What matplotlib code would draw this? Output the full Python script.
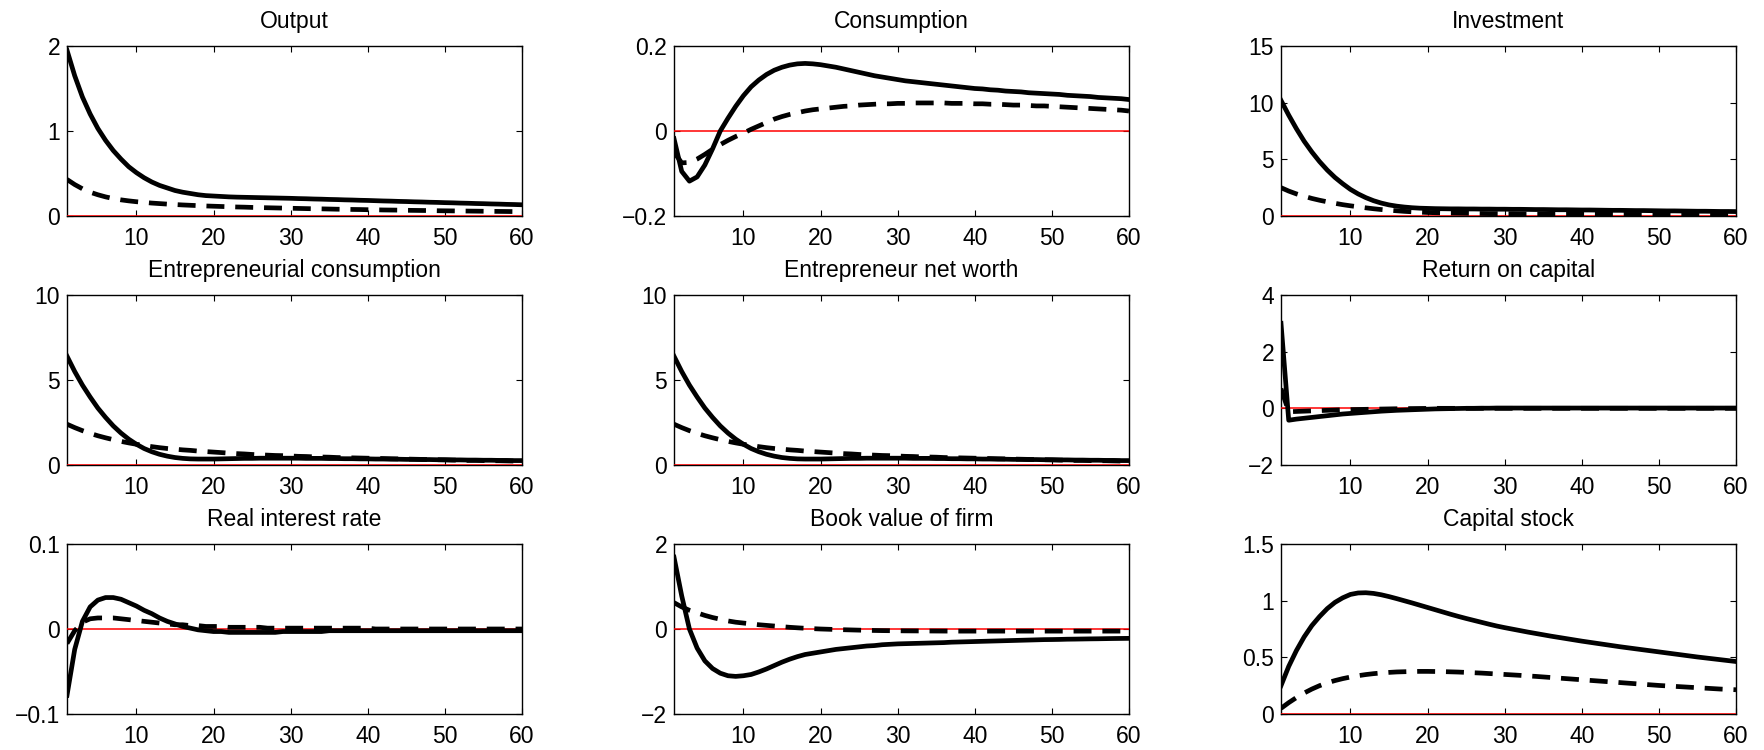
import matplotlib
matplotlib.use("Agg")
import matplotlib.pyplot as plt
import numpy as np

plt.rcParams['font.family'] = ['Liberation Sans', 'DejaVu Sans']

periods = list(range(1, 61))

titles = ["Output", "Consumption", "Investment",
          "Entrepreneurial consumption", "Entrepreneur net worth", "Return on capital",
          "Real interest rate", "Book value of firm", "Capital stock"]

ylims = [(0, 2), (-0.2, 0.2), (0, 15),
         (0, 10), (0, 10), (-2, 4),
         (-0.1, 0.1), (-2, 2), (0, 1.5)]

yticks = [[0, 1, 2], [-0.2, 0, 0.2], [0, 5, 10, 15],
          [0, 5, 10], [0, 5, 10], [-2, 0, 2, 4],
          [-0.1, 0, 0.1], [-2, 0, 2], [0, 0.5, 1, 1.5]]

ytick_labels = [["0", "1", "2"], ["\u22120.2", "0", "0.2"], ["0", "5", "10", "15"],
                ["0", "5", "10"], ["0", "5", "10"], ["\u22122", "0", "2", "4"],
                ["\u22120.1", "0", "0.1"], ["\u22122", "0", "2"], ["0", "0.5", "1", "1.5"]]

xticks = [10, 20, 30, 40, 50, 60]

output_solid = [1.95, 1.65, 1.40, 1.20, 1.03, 0.89, 0.77, 0.67, 0.58, 0.51,
                0.45, 0.40, 0.36, 0.33, 0.30, 0.28, 0.265, 0.25, 0.24, 0.235,
                0.23, 0.225, 0.222, 0.22, 0.218, 0.216, 0.214, 0.212, 0.21, 0.208,
                0.205, 0.203, 0.20, 0.198, 0.195, 0.193, 0.19, 0.188, 0.185, 0.183,
                0.18, 0.177, 0.175, 0.172, 0.17, 0.167, 0.165, 0.162, 0.16, 0.157,
                0.155, 0.152, 0.15, 0.147, 0.145, 0.142, 0.14, 0.137, 0.135, 0.132]
output_dashed = [0.43, 0.37, 0.32, 0.28, 0.25, 0.225, 0.205, 0.19, 0.178, 0.168,
                 0.16, 0.152, 0.146, 0.14, 0.135, 0.13, 0.126, 0.122, 0.118, 0.115,
                 0.112, 0.109, 0.106, 0.104, 0.101, 0.099, 0.097, 0.095, 0.093, 0.091,
                 0.089, 0.087, 0.085, 0.084, 0.082, 0.08, 0.079, 0.077, 0.076, 0.074,
                 0.073, 0.071, 0.07, 0.069, 0.067, 0.066, 0.065, 0.064, 0.062, 0.061,
                 0.06, 0.059, 0.058, 0.057, 0.056, 0.055, 0.054, 0.053, 0.052, 0.051]

consumption_solid = [-0.018, -0.095, -0.118, -0.108, -0.08, -0.042, 0.0, 0.03, 0.058, 0.083,
                     0.104, 0.12, 0.133, 0.143, 0.15, 0.155, 0.158, 0.159, 0.158, 0.156,
                     0.153, 0.15, 0.146, 0.142, 0.138, 0.134, 0.13, 0.127, 0.124, 0.121,
                     0.118, 0.116, 0.114, 0.112, 0.11, 0.108, 0.106, 0.104, 0.102, 0.1,
                     0.099, 0.097, 0.096, 0.094, 0.093, 0.092, 0.09, 0.089, 0.088, 0.087,
                     0.086, 0.084, 0.083, 0.082, 0.081, 0.079, 0.078, 0.077, 0.076, 0.074]
consumption_dashed = [-0.05, -0.075, -0.074, -0.066, -0.055, -0.043, -0.032, -0.022, -0.013, -0.005,
                      0.004, 0.012, 0.02, 0.028, 0.034, 0.039, 0.043, 0.047, 0.05, 0.052,
                      0.054, 0.056, 0.058, 0.059, 0.061, 0.062, 0.063, 0.064, 0.064, 0.065,
                      0.065, 0.066, 0.066, 0.066, 0.066, 0.066, 0.065, 0.065, 0.065, 0.064,
                      0.064, 0.063, 0.063, 0.062, 0.061, 0.061, 0.06, 0.059, 0.059, 0.058,
                      0.057, 0.056, 0.055, 0.054, 0.053, 0.052, 0.051, 0.05, 0.049, 0.047]

investment_solid = [10.2, 8.9, 7.7, 6.6, 5.65, 4.8, 4.05, 3.4, 2.85, 2.35,
                    1.95, 1.62, 1.35, 1.14, 0.98, 0.87, 0.79, 0.73, 0.69, 0.67,
                    0.65, 0.64, 0.63, 0.63, 0.62, 0.62, 0.61, 0.61, 0.6, 0.6,
                    0.59, 0.59, 0.58, 0.57, 0.57, 0.56, 0.55, 0.55, 0.54, 0.53,
                    0.53, 0.52, 0.51, 0.5, 0.5, 0.49, 0.48, 0.48, 0.47, 0.46,
                    0.45, 0.45, 0.44, 0.43, 0.42, 0.42, 0.41, 0.4, 0.4, 0.39]
investment_dashed = [2.5, 2.2, 1.95, 1.74, 1.55, 1.39, 1.25, 1.12, 1.0, 0.9,
                     0.81, 0.72, 0.64, 0.57, 0.51, 0.46, 0.41, 0.37, 0.34, 0.31,
                     0.29, 0.27, 0.26, 0.25, 0.24, 0.23, 0.22, 0.21, 0.21, 0.2,
                     0.2, 0.19, 0.19, 0.18, 0.18, 0.17, 0.17, 0.17, 0.16, 0.16,
                     0.16, 0.15, 0.15, 0.15, 0.14, 0.14, 0.14, 0.13, 0.13, 0.13,
                     0.13, 0.12, 0.12, 0.12, 0.12, 0.11, 0.11, 0.11, 0.11, 0.1]

ent_cons_solid = [6.4, 5.5, 4.7, 4.0, 3.35, 2.8, 2.3, 1.88, 1.52, 1.22,
                  0.97, 0.78, 0.63, 0.52, 0.44, 0.39, 0.36, 0.35, 0.35, 0.35,
                  0.36, 0.37, 0.38, 0.39, 0.39, 0.4, 0.4, 0.4, 0.4, 0.4,
                  0.4, 0.39, 0.39, 0.39, 0.38, 0.38, 0.37, 0.37, 0.36, 0.36,
                  0.35, 0.35, 0.34, 0.34, 0.33, 0.33, 0.32, 0.32, 0.31, 0.31,
                  0.3, 0.3, 0.29, 0.29, 0.28, 0.28, 0.27, 0.27, 0.26, 0.26]
ent_cons_dashed = [2.4, 2.2, 2.02, 1.86, 1.72, 1.6, 1.49, 1.39, 1.3, 1.22,
                   1.15, 1.08, 1.02, 0.97, 0.93, 0.89, 0.86, 0.82, 0.79, 0.76,
                   0.73, 0.7, 0.67, 0.65, 0.62, 0.6, 0.58, 0.56, 0.55, 0.53,
                   0.51, 0.5, 0.48, 0.47, 0.46, 0.44, 0.43, 0.42, 0.41, 0.4,
                   0.39, 0.38, 0.37, 0.36, 0.35, 0.34, 0.33, 0.32, 0.31, 0.3,
                   0.29, 0.28, 0.27, 0.27, 0.26, 0.25, 0.25, 0.24, 0.23, 0.23]

net_worth_solid = [6.4, 5.5, 4.7, 4.0, 3.35, 2.8, 2.3, 1.88, 1.52, 1.22,
                   0.97, 0.78, 0.63, 0.52, 0.44, 0.39, 0.36, 0.35, 0.35, 0.35,
                   0.36, 0.37, 0.38, 0.39, 0.39, 0.4, 0.4, 0.4, 0.4, 0.4,
                   0.4, 0.39, 0.39, 0.39, 0.38, 0.38, 0.37, 0.37, 0.36, 0.36,
                   0.35, 0.35, 0.34, 0.34, 0.33, 0.33, 0.32, 0.32, 0.31, 0.31,
                   0.3, 0.3, 0.29, 0.29, 0.28, 0.28, 0.27, 0.27, 0.26, 0.26]
net_worth_dashed = [2.4, 2.2, 2.02, 1.86, 1.72, 1.6, 1.49, 1.39, 1.3, 1.22,
                    1.15, 1.08, 1.02, 0.97, 0.93, 0.89, 0.86, 0.82, 0.79, 0.76,
                    0.73, 0.7, 0.67, 0.65, 0.62, 0.6, 0.58, 0.56, 0.55, 0.53,
                    0.51, 0.5, 0.48, 0.47, 0.46, 0.44, 0.43, 0.42, 0.41, 0.4,
                    0.39, 0.38, 0.37, 0.36, 0.35, 0.34, 0.33, 0.32, 0.31, 0.3,
                    0.29, 0.28, 0.27, 0.27, 0.26, 0.25, 0.25, 0.24, 0.23, 0.23]

return_solid = [3.0, -0.42, -0.38, -0.35, -0.32, -0.29, -0.26, -0.23, -0.2, -0.18,
                -0.16, -0.14, -0.12, -0.1, -0.085, -0.07, -0.06, -0.05, -0.04, -0.03,
                -0.02, -0.015, -0.01, -0.005, 0.0, 0.0, 0.005, 0.005, 0.01, 0.01,
                0.01, 0.01, 0.01, 0.01, 0.01, 0.01, 0.01, 0.01, 0.01, 0.01,
                0.01, 0.01, 0.01, 0.01, 0.01, 0.01, 0.01, 0.01, 0.01, 0.01,
                0.01, 0.01, 0.01, 0.01, 0.01, 0.01, 0.01, 0.01, 0.01, 0.01]
return_dashed = [0.7, -0.12, -0.11, -0.1, -0.09, -0.08, -0.07, -0.06, -0.05, -0.045,
                 -0.04, -0.035, -0.03, -0.025, -0.02, -0.015, -0.01, -0.008, -0.005, -0.003,
                 0.0, 0.0, 0.0, 0.0, 0.0, 0.0, 0.0, 0.0, 0.0, 0.0,
                 0.0, 0.0, 0.0, 0.0, 0.0, 0.0, 0.0, 0.0, 0.0, 0.0,
                 0.0, 0.0, 0.0, 0.0, 0.0, 0.0, 0.0, 0.0, 0.0, 0.0,
                 0.0, 0.0, 0.0, 0.0, 0.0, 0.0, 0.0, 0.0, 0.0, 0.0]

rate_solid = [-0.078, -0.024, 0.009, 0.026, 0.034, 0.037, 0.037, 0.035, 0.031, 0.027,
              0.022, 0.018, 0.013, 0.009, 0.006, 0.003, 0.001, -0.001, -0.002, -0.003,
              -0.003, -0.004, -0.004, -0.004, -0.004, -0.004, -0.004, -0.004, -0.003, -0.003,
              -0.003, -0.003, -0.003, -0.003, -0.002, -0.002, -0.002, -0.002, -0.002, -0.002,
              -0.002, -0.002, -0.002, -0.002, -0.002, -0.002, -0.002, -0.002, -0.002, -0.002,
              -0.002, -0.002, -0.002, -0.002, -0.002, -0.002, -0.002, -0.002, -0.002, -0.002]
rate_dashed = [-0.017, -0.002, 0.008, 0.012, 0.013, 0.013, 0.013, 0.012, 0.011, 0.01,
               0.009, 0.008, 0.007, 0.006, 0.005, 0.005, 0.004, 0.004, 0.003, 0.003,
               0.003, 0.002, 0.002, 0.002, 0.002, 0.002, 0.001, 0.001, 0.001, 0.001,
               0.001, 0.001, 0.001, 0.001, 0.001, 0.001, 0.001, 0.001, 0.001, 0.001,
               0.0, 0.0, 0.0, 0.0, 0.0, 0.0, 0.0, 0.0, 0.0, 0.0,
               0.0, 0.0, 0.0, 0.0, 0.0, 0.0, 0.0, 0.0, 0.0, 0.0]

book_solid = [1.69, 0.78, 0.0, -0.45, -0.75, -0.93, -1.04, -1.1, -1.115, -1.1,
              -1.07, -1.01, -0.94, -0.86, -0.78, -0.71, -0.65, -0.6, -0.57, -0.54,
              -0.51, -0.48, -0.46, -0.44, -0.42, -0.4, -0.39, -0.37, -0.36, -0.35,
              -0.345, -0.34, -0.335, -0.33, -0.325, -0.32, -0.31, -0.305, -0.3, -0.295,
              -0.29, -0.285, -0.28, -0.275, -0.27, -0.265, -0.26, -0.255, -0.25, -0.248,
              -0.245, -0.24, -0.238, -0.235, -0.232, -0.23, -0.227, -0.224, -0.222, -0.22]
book_dashed = [0.62, 0.52, 0.44, 0.38, 0.32, 0.27, 0.23, 0.19, 0.16, 0.14,
               0.12, 0.1, 0.085, 0.07, 0.055, 0.04, 0.028, 0.017, 0.008, 0.0,
               -0.006, -0.012, -0.017, -0.022, -0.027, -0.031, -0.035, -0.038, -0.04, -0.042,
               -0.044, -0.045, -0.046, -0.047, -0.048, -0.049, -0.05, -0.05, -0.05, -0.05,
               -0.05, -0.05, -0.05, -0.05, -0.05, -0.05, -0.05, -0.05, -0.05, -0.05,
               -0.05, -0.05, -0.05, -0.05, -0.05, -0.05, -0.05, -0.05, -0.05, -0.05]

capital_solid = [0.25, 0.42, 0.56, 0.68, 0.78, 0.86, 0.93, 0.985, 1.025, 1.055,
                 1.068, 1.07, 1.064, 1.052, 1.036, 1.018, 0.999, 0.98, 0.96, 0.94,
                 0.92, 0.9, 0.88, 0.861, 0.843, 0.826, 0.809, 0.792, 0.776, 0.762,
                 0.749, 0.736, 0.723, 0.711, 0.699, 0.687, 0.676, 0.665, 0.654, 0.643,
                 0.633, 0.623, 0.613, 0.603, 0.593, 0.584, 0.575, 0.566, 0.557, 0.548,
                 0.539, 0.53, 0.521, 0.512, 0.503, 0.495, 0.487, 0.479, 0.471, 0.463]
capital_dashed = [0.05, 0.1, 0.145, 0.185, 0.22, 0.25, 0.275, 0.295, 0.312, 0.326,
                  0.338, 0.348, 0.356, 0.362, 0.367, 0.371, 0.373, 0.375, 0.376, 0.376,
                  0.375, 0.374, 0.372, 0.37, 0.367, 0.364, 0.361, 0.357, 0.353, 0.349,
                  0.345, 0.341, 0.336, 0.332, 0.327, 0.322, 0.317, 0.312, 0.307, 0.302,
                  0.297, 0.292, 0.287, 0.282, 0.277, 0.272, 0.267, 0.262, 0.257, 0.252,
                  0.248, 0.244, 0.24, 0.236, 0.232, 0.228, 0.224, 0.22, 0.217, 0.214]

solid_series = [output_solid, consumption_solid, investment_solid,
                ent_cons_solid, net_worth_solid, return_solid,
                rate_solid, book_solid, capital_solid]
dashed_series = [output_dashed, consumption_dashed, investment_dashed,
                 ent_cons_dashed, net_worth_dashed, return_dashed,
                 rate_dashed, book_dashed, capital_dashed]

W, H = 1764, 750
fig = plt.figure(figsize=(W / 100, H / 100), dpi=100)

col_left = [67, 674, 1281]
row_top = [46, 295, 544]
ax_w, ax_h = 455, 170

fs = 16.5
for i in range(9):
    r, c = divmod(i, 3)
    ax = fig.add_axes([col_left[c] / W, 1 - (row_top[r] + ax_h) / H, ax_w / W, ax_h / H])
    ax.axhline(0, color='red', lw=1.1, zorder=2.6)
    ax.plot(periods, dashed_series[i], color='black', lw=3.4,
            linestyle=(0, (3.8, 2.3)), zorder=3)
    ax.plot(periods, solid_series[i], color='black', lw=3.4, zorder=4)
    ax.set_xlim(1, 60)
    ax.set_ylim(*ylims[i])
    ax.set_xticks(xticks)
    ax.set_yticks(yticks[i])
    ax.set_yticklabels(ytick_labels[i])
    ax.tick_params(direction='in', length=4, width=0.8, top=True, right=True,
                   labelsize=fs, color='black')
    ax.tick_params(axis='x', pad=8)
    ax.tick_params(axis='y', pad=5)
    for s in ax.spines.values():
        s.set_linewidth(1.0)
    ax.set_title(titles[i], fontsize=fs, pad=13)

fig.savefig("out.png", dpi=100)
